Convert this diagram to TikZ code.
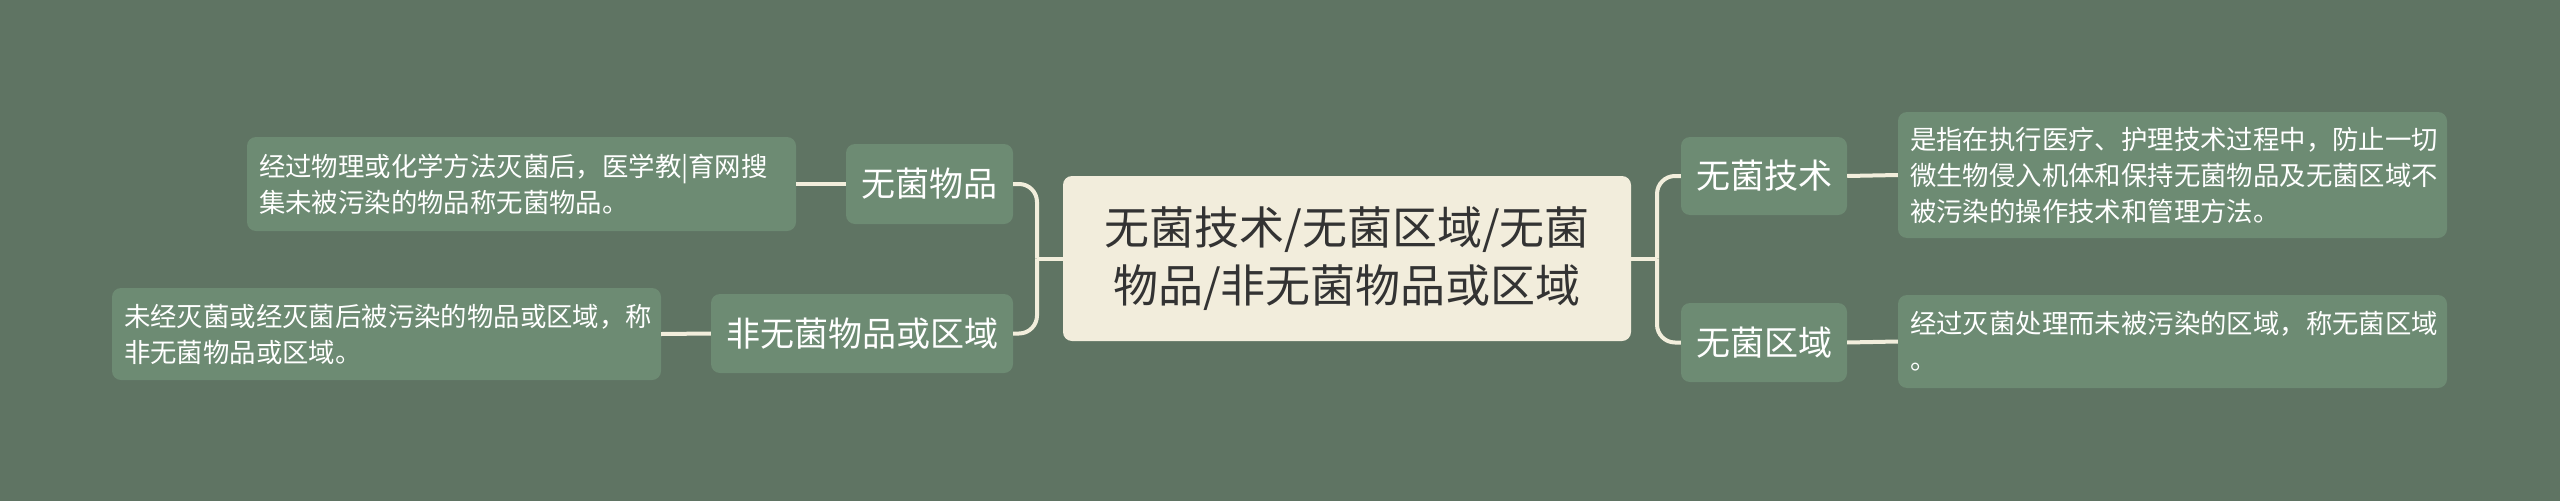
\documentclass[tikz,border=0pt]{standalone}
\usepackage{fontspec}
\setmainfont{Noto Sans CJK SC}
\definecolor{bgcol}{HTML}{5F7463}
\definecolor{boxcol}{HTML}{6D8B73}
\definecolor{rootcol}{HTML}{F2EDDC}
\definecolor{linecol}{HTML}{F2EEDC}
\definecolor{inkcol}{HTML}{333333}
\tikzset{
  rootbox/.style={fill=rootcol,text=inkcol,rounded corners=9pt,align=center,inner sep=0pt,font=\fontsize{45}{58}\selectfont},
  topicbox/.style={fill=boxcol,text=white,rounded corners=9pt,inner sep=0pt,font=\fontsize{34}{40}\selectfont},
  notebox/.style={fill=boxcol,text=white,rounded corners=9pt,align=left,inner xsep=12pt,inner ysep=0pt,text width=525pt,font=\fontsize{26.4}{36}\selectfont},
  link/.style={draw=linecol,line width=4pt,rounded corners=18pt}
}
\begin{document}
\begin{tikzpicture}[x=1pt,y=-1pt]
\fill[bgcol] (0,0) rectangle (2560,501);
\useasboundingbox (0,0) rectangle (2560,501);
\node[rootbox,minimum width=568pt,minimum height=165pt] (root) at (1347,258.5) {无菌技术/无菌区域/无菌\\物品/非无菌物品或区域};
\node[topicbox,minimum width=167pt,minimum height=80pt] (wjwp) at (929.5,184) {无菌物品};
\node[topicbox,minimum width=302pt,minimum height=79pt] (fwj) at (862,333.5) {非无菌物品或区域};
\node[topicbox,minimum width=166pt,minimum height=78pt] (wjjs) at (1764,176) {无菌技术};
\node[topicbox,minimum width=166pt,minimum height=79pt] (wjqy) at (1764,342.5) {无菌区域};
\node[notebox,minimum height=94pt] (wjwpnote) at (521.5,184) {经过物理或化学方法灭菌后，医学教|育网搜\\集未被污染的物品称无菌物品。};
\node[notebox,minimum height=92pt] (fwjnote) at (386.5,334) {未经灭菌或经灭菌后被污染的物品或区域，称\\非无菌物品或区域。};
\node[notebox,minimum height=126pt] (wjjsnote) at (2172.5,175) {是指在执行医疗、护理技术过程中，防止一切\\微生物侵入机体和保持无菌物品及无菌区域不\\被污染的操作技术和管理方法。};
\node[notebox,minimum height=93pt] (wjqynote) at (2172.5,341.5) {经过灭菌处理而未被污染的区域，称无菌区域\\。};
\coordinate (lj) at (1037,258.5);
\coordinate (rj) at (1657,258.5);
\draw[link] (root.west)--(lj);
\draw[link] (lj)|-(wjwp.east);
\draw[link] (lj)|-(fwj.east);
\draw[link] (root.east)--(rj);
\draw[link] (rj)|-(wjjs.west);
\draw[link] (rj)|-(wjqy.west);
\draw[link] (wjwp.west)--(wjwpnote.east);
\draw[link] (fwj.west)--(fwjnote.east);
\draw[link] (wjjs.east)--(wjjsnote.west);
\draw[link] (wjqy.east)--(wjqynote.west);
\end{tikzpicture}
\end{document}
